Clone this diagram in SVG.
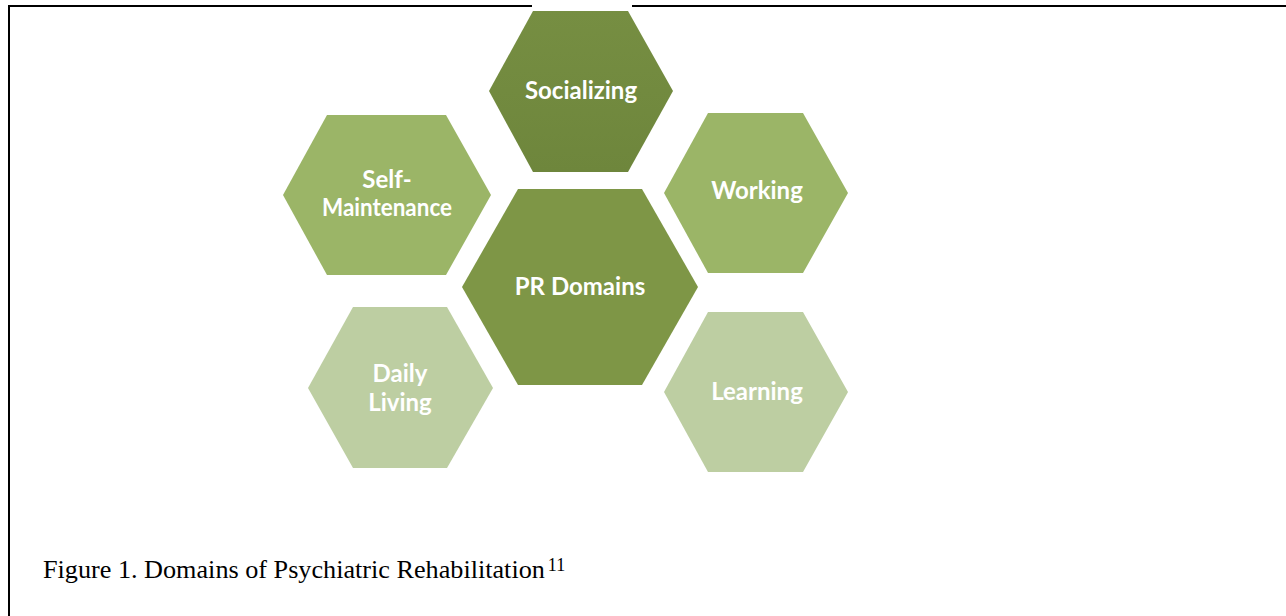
<svg xmlns="http://www.w3.org/2000/svg" width="1286" height="616" viewBox="0 0 1286 616">
  <defs>
    <linearGradient id="gradDark" x1="0" y1="0" x2="0" y2="1">
      <stop offset="0" stop-color="#768E42"/>
      <stop offset="1" stop-color="#6E863C"/>
    </linearGradient>
    <style>
      .frame { stroke: #000; stroke-width: 2; fill: none; }
      .label { font-family: Lato, "Open Sans", "Liberation Sans", sans-serif; font-weight: bold; font-size: 24px; fill: #fff; text-anchor: middle; }
      .caption { font-family: "Liberation Serif", "Times New Roman", serif; font-size: 26.2px; fill: #000; }
      .dark { fill: url(#gradDark); }
      .center { fill: #7E9646; }
      .mid { fill: #9BB567; }
      .light { fill: #BDCEA2; }
    </style>
  </defs>
  <rect width="1286" height="616" fill="#fff"/>

  <!-- page frame (top rule interrupted by the figure's backdrop) -->
  <g id="frame">
    <path class="frame" d="M9 616 V6 H532"/>
    <path class="frame" d="M632 6 H1286"/>
  </g>

  <!-- no connectors in this figure -->
  <g id="connectors"></g>

  <g id="socializing">
    <polygon class="dark" points="533,11 628,11 673,91 628,172 533,172 489,91"/>
    <text class="label" x="581" y="99">Socializing</text>
  </g>

  <g id="self-maintenance">
    <polygon class="mid" points="327,115 446,115 491,195 446,275 327,275 283,195"/>
    <text class="label" x="387" y="188">Self-</text>
    <text class="label" x="387" y="216" textLength="130" lengthAdjust="spacingAndGlyphs">Maintenance</text>
  </g>

  <g id="working">
    <polygon class="mid" points="708,113 803,113 848,193 803,273 708,273 664,193"/>
    <text class="label" x="757" y="199">Working</text>
  </g>

  <g id="pr-domains">
    <polygon class="center" points="518,189 642,189 698,287 642,385 518,385 462,287"/>
    <text class="label" x="580" y="295">PR Domains</text>
  </g>

  <g id="daily-living">
    <polygon class="light" points="353,307 447,307 493,388 447,468 353,468 308,388"/>
    <text class="label" x="400" y="382">Daily</text>
    <text class="label" x="400" y="411">Living</text>
  </g>

  <g id="learning">
    <polygon class="light" points="708,312 803,312 848,392 803,472 708,472 664,392"/>
    <text class="label" x="757" y="400">Learning</text>
  </g>

  <text class="caption" x="43" y="578">Figure 1. Domains of Psychiatric Rehabilitation<tspan font-size="18" dx="3" dy="-7">11</tspan></text>
</svg>
